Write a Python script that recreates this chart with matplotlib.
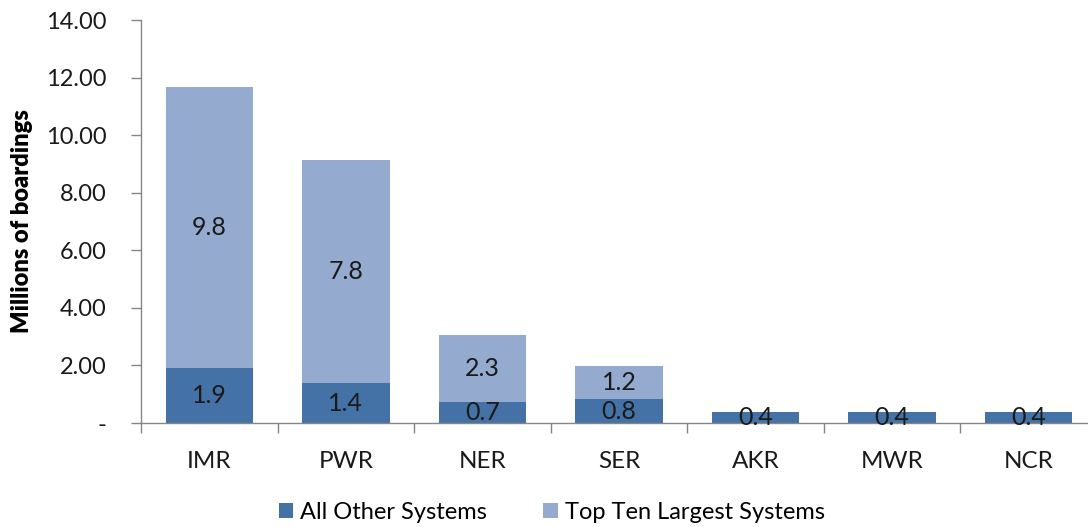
import numpy as np
import matplotlib.pyplot as plt

plt.rcParams['font.family'] = ['Lato', 'DejaVu Sans']

regions = ['IMR', 'PWR', 'NER', 'SER', 'AKR', 'MWR', 'NCR']
all_other = [1.91, 1.38, 0.74, 0.83, 0.38, 0.38, 0.38]
top_ten = [9.76, 7.76, 2.32, 1.16, 0, 0, 0]

dark = '#4472A6'
light = '#95AACF'
grey = '#868686'
txt = '#1a1a1a'

fig = plt.figure(figsize=(10.88, 5.27), dpi=100)
ax = fig.add_axes([0.1296, 0.1973, 0.8787, 0.7647])

x = np.arange(len(regions))
b1 = ax.bar(x, all_other, width=0.64, color=dark, label='All Other Systems', zorder=2)
b2 = ax.bar(x, top_ten, width=0.64, bottom=all_other, color=light,
            label='Top Ten Largest Systems', zorder=2)

ax.bar_label(b1, labels=['%.1f' % v for v in all_other], label_type='center',
             fontsize=18, color=txt)
ax.bar_label(b2, labels=['%.1f' % v if v > 0 else '' for v in top_ten],
             label_type='center', fontsize=18, color=txt)

ax.set_xlim(-0.5, len(regions) - 0.5)
ax.set_ylim(0, 14)
ax.set_yticks(np.arange(0, 15, 2))
ax.set_yticklabels(['-'] + ['%.2f' % v for v in np.arange(2, 15, 2)])
ax.set_xticks(x)
ax.set_xticklabels(regions)
ax.set_xticks(np.arange(-0.5, len(regions) - 0.4, 1), minor=True)
ax.tick_params(axis='x', which='major', length=0, labelsize=17.5, pad=20, labelcolor=txt)
ax.tick_params(axis='x', which='minor', length=7, color=grey, width=1)
ax.tick_params(axis='y', length=7, color=grey, width=1, labelsize=17, pad=18, labelcolor=txt)

for s in ['top', 'right']:
    ax.spines[s].set_visible(False)
for s in ['left', 'bottom']:
    ax.spines[s].set_color(grey)
    ax.spines[s].set_linewidth(1)

ax.set_ylabel('Millions of boardings', fontsize=17, fontweight='heavy')
ax.yaxis.set_label_coords(-0.113, 0.5)

fig.legend(handles=[b1, b2], loc='center', bbox_to_anchor=(0.507, 0.027), ncol=2,
           frameon=False, fontsize=17, handlelength=0.6, handleheight=0.6,
           handletextpad=0.3, columnspacing=2.4)

plt.savefig('out.png', dpi=100)
